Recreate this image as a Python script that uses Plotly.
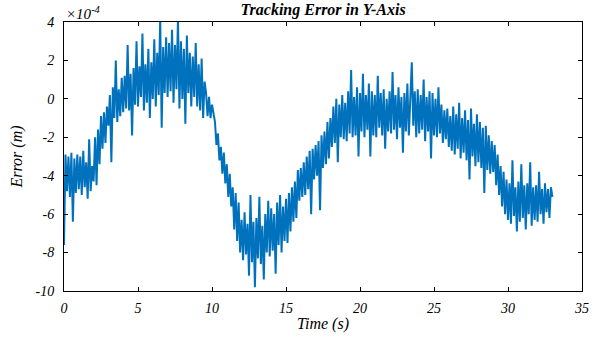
import plotly.graph_objects as go

# time axis (s), sampled every 0.1 s
time_s = [round(i * 0.1, 1) for i in range(331)]

# tracking error in units of 1e-4 m (row per second)
error_e4 = [
    -7.6, -2.9, -4.8, -3.0, -5.1, -2.8, -6.4, -3.1, -4.9, -2.9,
    -4.7, -3.0, -5.0, -2.7, -4.6, -3.3, -5.2, -2.1, -4.8, -3.5,
    -4.3, -2.0, -4.5, -1.6, -3.4, -0.9, -2.6, -0.7, -2.3, -0.4,
    -1.4, 0.2, -3.3, 0.6, -1.0, 2.0, -1.2, 0.5, -0.9, 1.1,
    -0.7, 1.2, -0.5, 2.8, -0.6, 1.3, -1.9, 1.6, -0.3, 3.0,
    -0.4, 1.7, 0.1, 3.4, -0.6, 1.8, -0.2, 2.6, -1.0, 1.9,
    0.0, 3.1, -0.4, 2.4, 0.2, 4.2, -1.5, 2.7, 0.3, 3.2,
    0.1, 2.9, 0.4, 3.6, -0.2, 2.8, 0.5, 4.2, -0.5, 3.0,
    0.0, 2.6, -1.3, 3.3, 0.3, 2.4, -0.4, 2.2, 0.1, 2.9,
    -0.4, 1.8, -0.6, 2.1, -1.0, 0.9, 0.3, -0.9, 0.1, -1.0,
    -0.3, -0.9, -1.2, -2.4, -1.8, -3.2, -2.5, -3.9, -2.8, -4.4,
    -3.4, -5.1, -3.9, -5.6, -4.6, -6.8, -4.9, -7.4, -5.4, -8.0,
    -6.3, -8.4, -5.9, -8.1, -6.5, -9.2, -5.0, -8.5, -6.4, -9.8,
    -6.2, -8.3, -5.1, -8.6, -6.6, -9.4, -6.0, -8.0, -5.3, -8.2,
    -5.7, -7.9, -6.0, -9.1, -5.4, -7.6, -5.0, -8.0, -5.6, -7.4,
    -5.2, -7.5, -4.9, -6.9, -4.6, -6.4, -4.3, -6.2, -3.7, -5.3,
    -3.6, -5.1, -3.3, -5.0, -3.0, -4.7, -2.7, -6.0, -2.6, -4.2,
    -2.4, -4.0, -2.2, -5.8, -1.9, -3.6, -1.7, -3.4, -1.2, -3.1,
    -1.0, -2.5, -0.4, -2.3, 0.0, -3.3, -0.3, -2.0, 0.2, -2.1,
    -0.2, -2.2, 0.4, -1.8, 1.5, -2.0, 0.1, -1.9, 0.6, -3.0,
    0.3, -1.7, 1.3, -2.0, 0.2, -1.6, 0.8, -3.0, 0.4, -1.9,
    0.2, -2.0, 1.2, -1.5, 0.3, -1.9, 0.5, -2.6, 0.0, -1.7,
    0.4, -1.8, 1.4, -1.6, 0.2, -2.1, 0.6, -1.5, 0.1, -2.8,
    0.3, -1.7, 0.8, -1.9, 0.2, 1.9, -1.4, 0.4, -2.0, 0.5,
    -1.8, 0.2, -1.6, 1.0, -2.2, 0.1, -1.7, 0.4, -3.1, 0.3,
    -1.9, 0.0, -2.0, 0.6, -1.8, -0.3, -2.3, -0.6, -2.1, -0.5,
    -2.5, -0.9, -2.7, -0.4, -2.9, -0.8, -2.6, -0.2, -3.1, -1.0,
    -2.8, -0.6, -3.2, -1.1, -4.2, -0.5, -3.0, -1.3, -3.5, -0.8,
    -3.3, -1.2, -3.6, -1.5, -4.9, -1.4, -3.7, -1.9, -3.9, -2.2,
    -3.8, -2.4, -4.5, -2.9, -5.0, -3.5, -5.6, -3.8, -6.0, -4.2,
    -6.3, -4.4, -6.5, -3.2, -6.1, -4.6, -6.9, -4.3, -6.4, -3.4,
    -6.2, -4.5, -6.8, -4.4, -6.0, -3.3, -6.6, -4.6, -6.3, -4.5,
    -6.4, -3.8, -6.0, -4.7, -6.5, -4.4, -5.9, -4.7, -6.2, -4.6,
    -5.1,
]

x_ticks = [0, 5, 10, 15, 20, 25, 30, 35]
y_ticks = [4, 2, 0, -2, -4, -6, -8, -10]

FONT = "Liberation Serif, Times New Roman, serif"

fig = go.Figure()
fig.add_trace(go.Scatter(
    x=time_s, y=error_e4, mode="lines",
    line=dict(color="#0072BD", width=2),
    showlegend=False,
))

axis_common = dict(
    showline=True, linecolor="black", linewidth=1, mirror="ticks",
    ticks="inside", ticklen=4, tickcolor="black", tickwidth=1,
    showgrid=False, zeroline=False, automargin=False,
    tickfont=dict(family=FONT, size=14, color="black", style="italic"),
)

fig.update_layout(
    width=605, height=347,
    margin=dict(l=64, r=23, t=22, b=56),
    paper_bgcolor="white", plot_bgcolor="white",
    title=dict(
        text="<b><i>Tracking Error in Y-Axis</i></b>",
        x=323 / 605, xanchor="center",
        y=0.99, yanchor="top",
        font=dict(family=FONT, size=16, color="black"),
    ),
    xaxis=dict(range=[0, 35], tickvals=x_ticks, ticktext=[str(v) for v in x_ticks],
               ticklabelstandoff=4,
               title=dict(text="<i>Time (s)</i>", standoff=3,
                          font=dict(family=FONT, size=16, color="black")),
               **axis_common),
    yaxis=dict(range=[-10, 4], tickvals=y_ticks, ticktext=[str(v) for v in y_ticks],
               ticklabelstandoff=6,
               title=dict(text="<i>Error (m)</i>", standoff=8,
                          font=dict(family=FONT, size=16, color="black")),
               **axis_common),
)

fig.add_annotation(
    text="<i>×10<sup>-4</sup></i>", xref="paper", yref="paper",
    x=0, y=1, xanchor="left", yanchor="bottom", showarrow=False,
    font=dict(family=FONT, size=15, color="black"), yshift=-2,
)

fig.write_html("out.html",
               config={"displayModeBar": False},
               post_script="document.body.style.margin='0';")
